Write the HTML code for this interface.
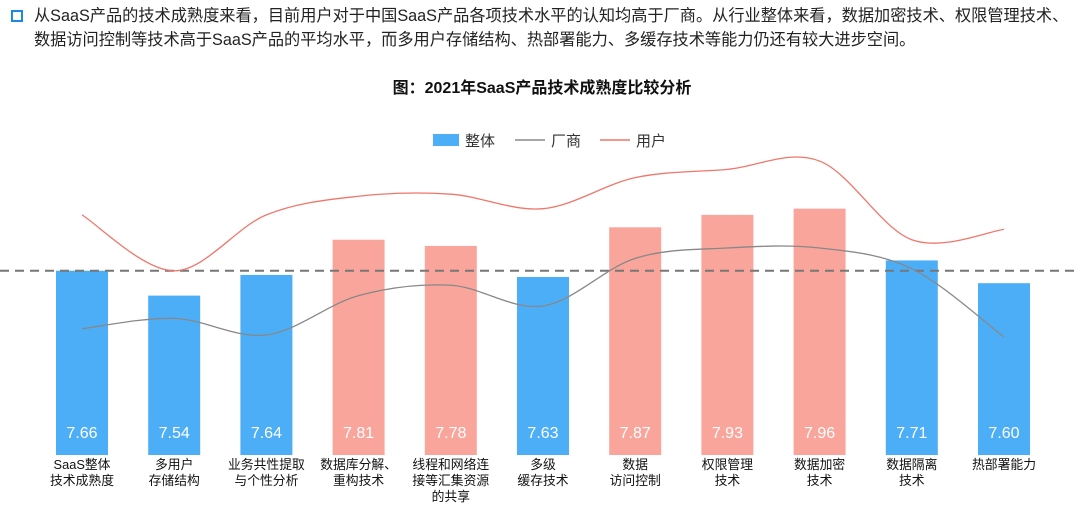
<!DOCTYPE html>
<html><head><meta charset="utf-8"><style>
body{margin:0;width:1080px;height:507px;background:#fff;overflow:hidden;font-family:"Liberation Sans","Noto Sans CJK SC",sans-serif;}
.intro{position:absolute;left:34px;top:5px;font-size:16.2px;line-height:23.5px;color:#222;white-space:nowrap;}
.bullet{position:absolute;left:11px;top:10px;width:8px;height:8px;border:2px solid #1e88e5;}
</style></head><body>
<div class="bullet"></div>
<div class="intro">从SaaS产品的技术成熟度来看，目前用户对于中国SaaS产品各项技术水平的认知均高于厂商。从行业整体来看，数据加密技术、权限管理技术、<br>数据访问控制等技术高于SaaS产品的平均水平，而多用户存储结构、热部署能力、多缓存技术等能力仍还有较大进步空间。</div>
<svg id="chart" width="1080" height="507" style="position:absolute;left:0;top:0"></svg>
<script>
const categories=[["SaaS整体","技术成熟度"],["多用户","存储结构"],["业务共性提取","与个性分析"],["数据库分解、","重构技术"],["线程和网络连","接等汇集资源","的共享"],["多级","缓存技术"],["数据","访问控制"],["权限管理","技术"],["数据加密","技术"],["数据隔离","技术"],["热部署能力"]];
const overall=[7.66,7.54,7.64,7.81,7.78,7.63,7.87,7.93,7.96,7.71,7.60];
const highlight=[false,false,false,true,true,false,true,true,true,false,false];
const vendor=[7.38,7.43,7.35,7.54,7.59,7.49,7.72,7.77,7.77,7.67,7.34];
const user=[7.93,7.66,7.93,8.02,8.03,7.96,8.11,8.15,8.19,7.81,7.86];
const avgLine=7.66;
const NS="http://www.w3.org/2000/svg",svg=document.getElementById('chart');
const yMin=6.77,base=455,ppu=207;
const y=v=>base-(v-yMin)*ppu;
const x=i=>82+i*92.2;
function mk(t,a,p){const e=document.createElementNS(NS,t);for(const k in a)e.setAttribute(k,a[k]);(p||svg).appendChild(e);return e;}
let t=mk('text',{x:542,y:93,'text-anchor':'middle','font-size':16,'font-weight':'bold',fill:'#111'});t.textContent='图：2021年SaaS产品技术成熟度比较分析';


let g=mk('g',{});
mk('rect',{x:433,y:134,width:26,height:12,fill:'#4daef8'},g);
let l1=mk('text',{x:465,y:146,'font-size':15,fill:'#333'},g);l1.textContent='整体';
mk('line',{x1:515,y1:140,x2:545,y2:140,stroke:'#888','stroke-width':1.5},g);
let l2=mk('text',{x:551,y:146,'font-size':15,fill:'#333'},g);l2.textContent='厂商';
mk('line',{x1:600,y1:140,x2:630,y2:140,stroke:'#f0766a','stroke-width':1.5},g);
let l3=mk('text',{x:636,y:146,'font-size':15,fill:'#333'},g);l3.textContent='用户';
overall.forEach((v,i)=>{
 const r=mk('rect',{x:x(i)-26,y:y(v),width:52,height:base-y(v),fill:highlight[i]?'#faa59c':'#4daef8'});
 
 
 const tv=mk('text',{x:x(i),y:438,'text-anchor':'middle','font-size':16,fill:'#fff'});tv.textContent=v.toFixed(2);
 
 
 categories[i].forEach((s,j)=>{const c=mk('text',{x:x(i),y:469+j*16,'text-anchor':'middle','font-size':12.8,fill:'#111'});c.textContent=s;
 
 });
});
const d=mk('line',{x1:0,x2:1080,y1:y(avgLine),y2:y(avgLine),stroke:'#777','stroke-width':2,'stroke-dasharray':'9,6'});


function smooth(vals){const p=vals.map((v,i)=>[x(i),y(v)]);let s='M'+p[0][0]+','+p[0][1];
 for(let i=0;i<p.length-1;i++){const p0=p[i-1]||p[i],p1=p[i],p2=p[i+1],p3=p[i+2]||p2;
  const c1=[p1[0]+(p2[0]-p0[0])/6,p1[1]+(p2[1]-p0[1])/6],c2=[p2[0]-(p3[0]-p1[0])/6,p2[1]-(p3[1]-p1[1])/6];
  s+=`C${c1[0]},${c1[1]} ${c2[0]},${c2[1]} ${p2[0]},${p2[1]}`;}return s;}
const pv=mk('path',{d:smooth(vendor),fill:'none',stroke:'#888','stroke-width':1.3});


const pu=mk('path',{d:smooth(user),fill:'none',stroke:'#f0766a','stroke-width':1.3});


</script>
</body></html>
